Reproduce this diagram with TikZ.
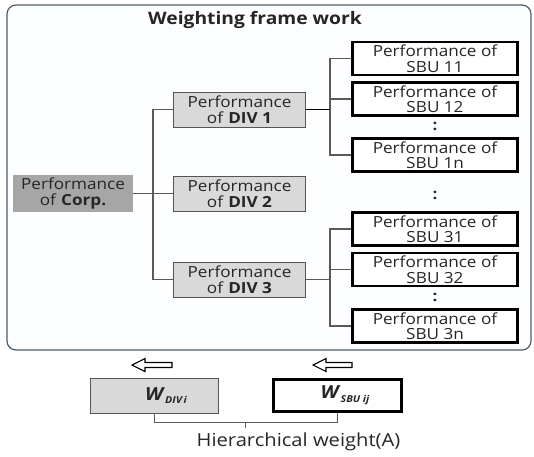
\documentclass[tikz,border=0pt]{standalone}
\usepackage{fontspec}
\setmainfont{Open Sans}[FakeStretch=1.12]
\usetikzlibrary{calc}
\definecolor{corpgray}{HTML}{A6A6A6}
\definecolor{divgray}{HTML}{D9D9D9}
\definecolor{divborder}{HTML}{555555}
\definecolor{conngray}{HTML}{5A5A5A}
\definecolor{framecol}{HTML}{4E5E6C}
\definecolor{framefill}{HTML}{FCFEFF}
\definecolor{txt}{HTML}{262626}
\tikzset{
  base/.style={inner sep=0pt, align=center, text=txt, font=\fontsize{15.3}{15.5}\selectfont},
  corpbox/.style={base, fill=corpgray, minimum width=120pt, minimum height=37pt},
  divbox/.style={base, fill=divgray, draw=divborder, line width=0.8pt, minimum width=132pt, minimum height=35pt},
  sbubox/.style={base, fill=white, draw=black, line width=2.6pt, minimum width=165pt, minimum height=33pt},
  conn/.style={draw=conngray, line width=1.1pt},
  connbold/.style={draw=black, line width=1.6pt},
  dotsnode/.style={base, font=\fontsize{15}{15}\selectfont\bfseries},
  hollowarrow/.style={draw=black, line width=1.1pt, fill=white, line join=miter},
  wtext/.style={base, font=\fontsize{18}{18}\selectfont}
}
\newcommand{\wsub}[1]{\textbf{\textit{W}}\raisebox{-0.4ex}{\fontsize{9.5}{9.5}\selectfont\bfseries\itshape #1}}
\begin{document}
\begin{tikzpicture}[x=1pt,y=-1pt]
\useasboundingbox (0,0) rectangle (534,456);
% frame
\draw[framecol, line width=1.2pt, fill=framefill, rounded corners=9pt] (7,5) rectangle (531,350);
\node[base, font=\fontsize{17.2}{17}\selectfont\bfseries] (title) at (255,20) {Weighting frame work};
% level nodes
\node[corpbox] (corp) at (73,193.5) {Performance\\of \textbf{Corp.}};
\node[divbox] (div1) at (239.5,109.5) {Performance\\of \textbf{DIV 1}};
\node[divbox] (div2) at (239.5,193.5) {Performance\\of \textbf{DIV 2}};
\node[divbox] (div3) at (239.5,279.5) {Performance\\of \textbf{DIV 3}};
\node[sbubox] (sbu11) at (435,58.5) {Performance of\\SBU 11};
\node[sbubox] (sbu12) at (435,99) {Performance of\\SBU 12};
\node[sbubox] (sbu1n) at (435,155) {Performance of\\SBU 1n};
\node[sbubox] (sbu31) at (435,229) {Performance of\\SBU 31};
\node[sbubox] (sbu32) at (435,269.5) {Performance of\\SBU 32};
\node[sbubox] (sbu3n) at (435,326) {Performance of\\SBU 3n};
\node[dotsnode] (d1) at (435,126.5) {:};
\node[dotsnode] (d2) at (435,195) {:};
\node[dotsnode] (d3) at (435,297) {:};
% connectors
\coordinate (tr0) at (153,0);
\coordinate (tr1) at (330,0);
\draw[conn] (corp.east) -- (div2.west);
\draw[conn] (div1.west) -- (div1.west -| tr0) -- (div3.west -| tr0) -- (div3.west);
\draw[conn] (sbu11.west) -- (sbu11.west -| tr1) -- (sbu1n.west -| tr1) -- (sbu1n.west);
\draw[conn] (sbu12.west) -- (sbu12.west -| tr1);
\draw[connbold] (div1.east) -- (div1.east -| tr1);
\draw[conn] (sbu31.west) -- (sbu31.west -| tr1) -- (sbu3n.west -| tr1) -- (sbu3n.west);
\draw[conn] (sbu32.west) -- (sbu32.west -| tr1);
\draw[conn] (div3.east) -- (div3.east -| tr1);
% bottom part
\draw[hollowarrow] (132,365) -- (145,358.5) -- (145,362.5) -- (172,362.5) -- (172,367.5) -- (145,367.5) -- (145,371.5) -- cycle;
\draw[hollowarrow] (313,365) -- (326,358.5) -- (326,362.5) -- (352,362.5) -- (352,367.5) -- (326,367.5) -- (326,371.5) -- cycle;
\node[wtext, fill=divgray, draw=divborder, line width=0.8pt, minimum width=128pt, minimum height=35pt] (wdiv) at (154,395.5)
  {\hspace*{24pt}\wsub{DIV\,i}};
\node[wtext, fill=white, draw=black, line width=2.6pt, minimum width=128pt, minimum height=32pt] (wsbu) at (337.5,395.5)
  {\hspace*{15pt}\wsub{SBU ij}};
\draw[conn, line width=0.9pt] (wdiv.south) -- ++(0,9) -| (wsbu.south);
\coordinate (mid) at ($(wdiv.south)!0.5!(wsbu.south)+(0,9)$);
\draw[conn, line width=0.9pt] (mid) -- ++(0,6);
\node[base, font=\fontsize{18}{18}\selectfont] (hw) at (298.5,442) {Hierarchical weight(A)};
\end{tikzpicture}
\end{document}
